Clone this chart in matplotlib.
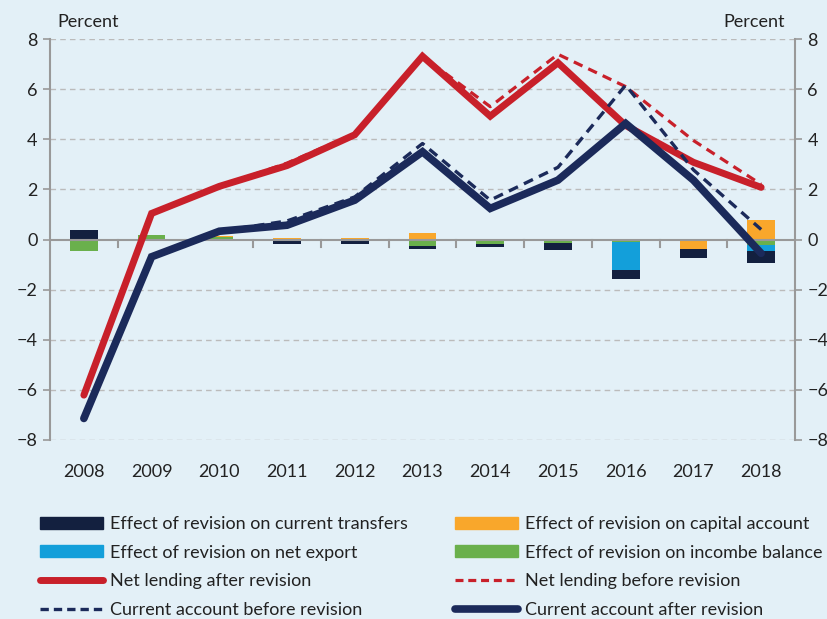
import matplotlib.pyplot as plt
import numpy as np
from matplotlib.patches import Patch
from matplotlib.lines import Line2D

plt.rcParams['font.family'] = ['Lato', 'DejaVu Sans']

years = ['2008', '2009', '2010', '2011', '2012', '2013', '2014', '2015', '2016', '2017', '2018']

# bar components (percentage points)
transfers = [0.36, -0.07, -0.06, -0.15, -0.16, -0.13, -0.12, -0.27, -0.33, -0.37, -0.47]
capital = [0.0, 0.0, 0.04, 0.07, 0.03, 0.25, 0.02, 0.03, 0.0, -0.29, 0.77]
net_export = [0.0, 0.0, 0.0, 0.0, 0.0, 0.0, 0.0, 0.0, -1.13, -0.07, -0.25]
income = [-0.47, 0.18, 0.08, -0.03, 0.02, -0.25, -0.16, -0.13, -0.10, 0.0, -0.20]

# lines
nl_after = [-6.21, 1.04, 2.12, 2.95, 4.18, 7.31, 4.92, 7.05, 4.55, 3.08, 2.08]
nl_before = [-6.21, 1.04, 2.12, 3.05, 4.22, 7.31, 5.30, 7.39, 6.10, 3.95, 2.20]
ca_before = [-7.14, -0.69, 0.33, 0.74, 1.70, 3.83, 1.57, 2.88, 6.16, 2.78, 0.40]
ca_after = [-7.14, -0.69, 0.33, 0.57, 1.57, 3.50, 1.24, 2.37, 4.63, 2.37, -0.55]

bg = '#E3F0F7'
c_navy_bar = '#13203F'
c_orange = '#F9A72B'
c_blue = '#139FDA'
c_green = '#6AB04C'
c_red = '#C8202A'
c_navy = '#1B2A5A'
c_grid = '#BBBBBB'
c_axis = '#999999'
c_text = '#222222'

fig = plt.figure(figsize=(8.28, 6.19), dpi=100, facecolor=bg)
ax = fig.add_axes([50 / 828, 1 - 440 / 619, 745 / 828, 401 / 619])
ax.set_facecolor(bg)

x = np.arange(len(years))
w = 0.41

# stacked bars, positives up and negatives down
pos = np.zeros(len(years))
neg = np.zeros(len(years))
for vals, col in [(income, c_green), (net_export, c_blue), (capital, c_orange), (transfers, c_navy_bar)]:
    v = np.array(vals)
    bottom = np.where(v >= 0, pos, neg)
    ax.bar(x, v, w, bottom=bottom, color=col, zorder=2)
    pos = pos + np.where(v > 0, v, 0)
    neg = neg + np.where(v < 0, v, 0)

ax.plot(x, nl_after, color=c_red, lw=5, solid_capstyle='round', solid_joinstyle='miter', zorder=4)
ax.plot(x, nl_before, color=c_red, lw=2.3, ls=(0, (3, 2)), zorder=5)
ax.plot(x, ca_after, color=c_navy, lw=5.5, solid_capstyle='round', solid_joinstyle='miter', zorder=4)
ax.plot(x, ca_before, color=c_navy, lw=2.4, ls=(0, (3, 2)), zorder=5)

ax.set_xlim(-0.5, len(years) - 0.5)
ax.set_ylim(-8, 8)
ax.set_yticks(np.arange(-8, 9, 2))
for yv in np.arange(-8, 9, 2):
    if yv != 0:
        ax.axhline(yv, color=c_grid, lw=1, ls=(0, (4, 3)), zorder=1)
ax.axhline(0, color=c_axis, lw=1.5, zorder=3)
# category boundary ticks on the zero line
for b in np.arange(0.5, len(years) - 1, 1):
    ax.plot([b, b], [0, -0.28], color=c_axis, lw=1.5, zorder=3)

ax.set_xticks(x)
ax.set_xticklabels(years)
ax.tick_params(axis='x', length=0, labelsize=13, pad=17, colors=c_text)
ax.tick_params(axis='y', direction='out', length=5, width=1.2, color=c_axis,
               labelsize=13, labelcolor=c_text, left=True, right=True,
               labelleft=True, labelright=True, pad=4)

for s in ['top', 'bottom']:
    ax.spines[s].set_visible(False)
for s in ['left', 'right']:
    ax.spines[s].set_color(c_axis)
    ax.spines[s].set_linewidth(1.5)

fig.text(57 / 828, 1 - 22 / 619, 'Percent', fontsize=13, va='center', ha='left', color=c_text)
fig.text(785 / 828, 1 - 22 / 619, 'Percent', fontsize=13, va='center', ha='right', color=c_text)

left_handles = [
    Patch(color=c_navy_bar),
    Patch(color=c_blue),
    Line2D([], [], color=c_red, lw=5, solid_capstyle='round'),
    Line2D([], [], color=c_navy, lw=2.4, ls=(0, (2.5, 1.5))),
]
left_labels = ['Effect of revision on current transfers', 'Effect of revision on net export',
               'Net lending after revision', 'Current account before revision']
right_handles = [
    Patch(color=c_orange),
    Patch(color=c_green),
    Line2D([], [], color=c_red, lw=2.3, ls=(0, (2.5, 1.5))),
    Line2D([], [], color=c_navy, lw=5.5, solid_capstyle='round'),
]
right_labels = ['Effect of revision on capital account', 'Effect of revision on incombe balance',
                'Net lending before revision', 'Current account after revision']

for hs, ls_, xa in [(left_handles, left_labels, 40), (right_handles, right_labels, 455)]:
    fig.legend(hs, ls_, loc='upper left', bbox_to_anchor=(xa / 828, 1 - 516 / 619),
               frameon=False, fontsize=13, handlelength=3.5, handleheight=0.65,
               handletextpad=0.4, labelspacing=0.7, borderaxespad=0, borderpad=0,
               labelcolor=c_text)

plt.savefig('out.png', dpi=100, facecolor=bg)
